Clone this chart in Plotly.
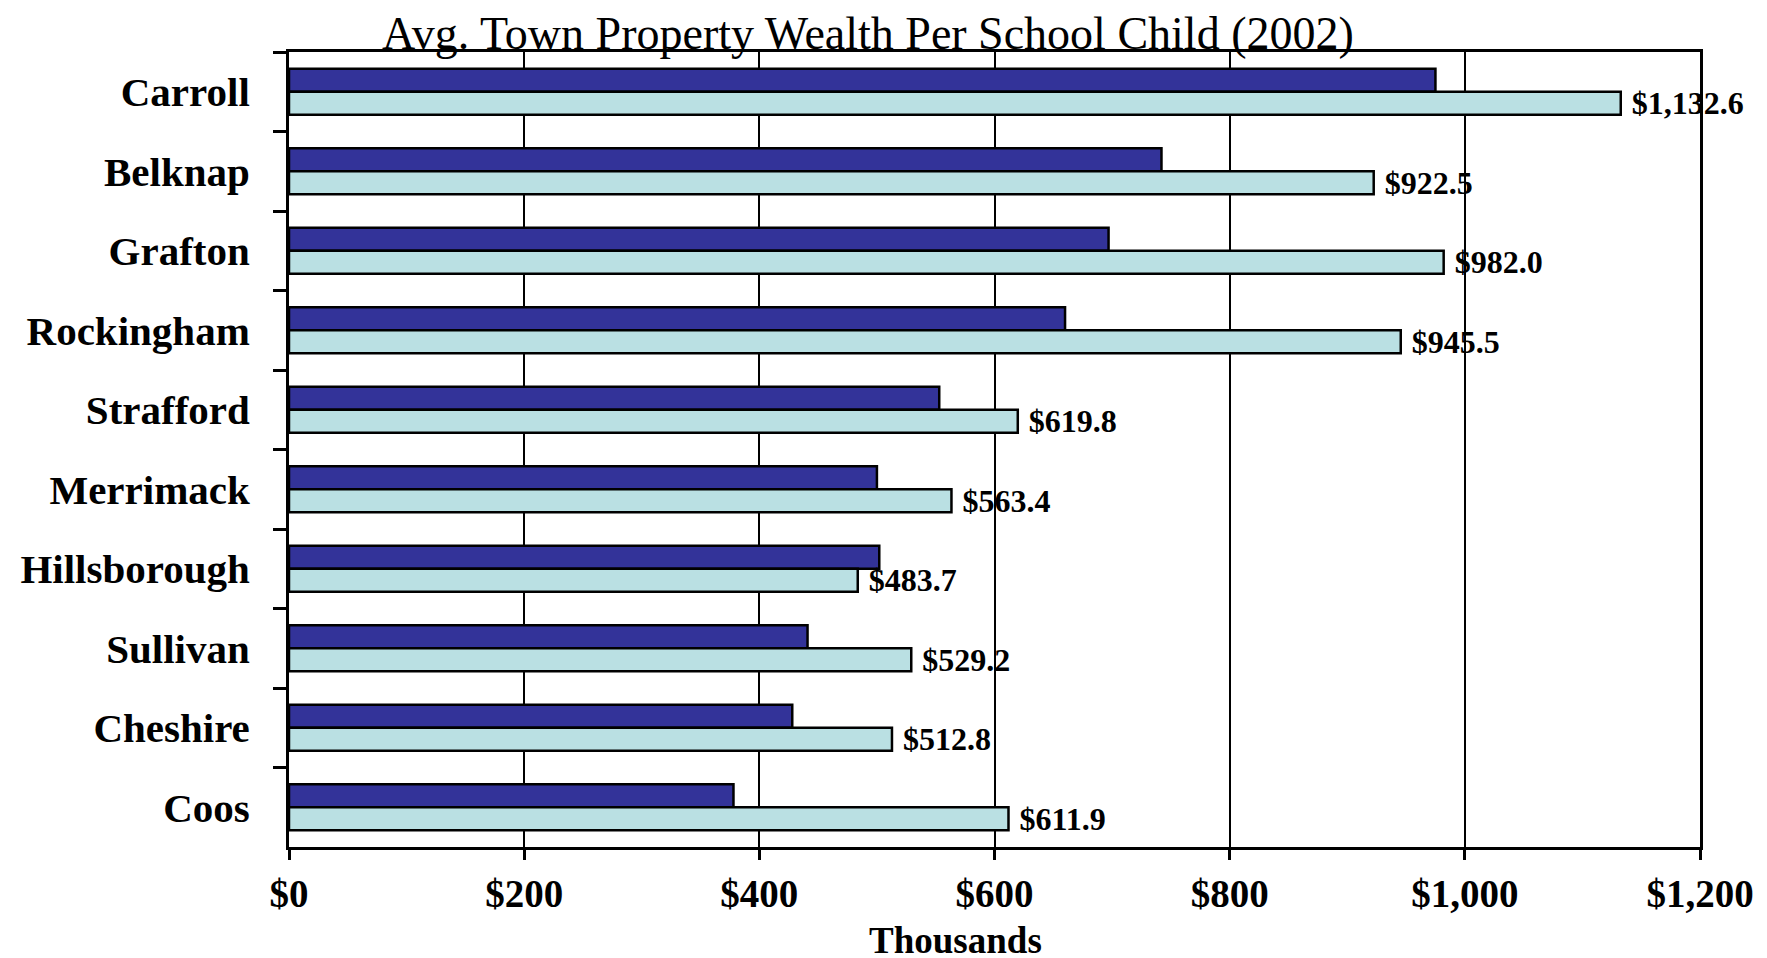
import plotly.graph_objects as go

counties = ["Carroll", "Belknap", "Grafton", "Rockingham", "Strafford",
            "Merrimack", "Hillsborough", "Sullivan", "Cheshire", "Coos"]
wealth_earlier = [975, 742, 697, 660, 553, 500, 502, 441, 428, 378]
wealth_2002 = [1132.6, 922.5, 982.0, 945.5, 619.8, 563.4, 483.7, 529.2, 512.8, 611.9]
x_ticks = [0, 200, 400, 600, 800, 1000, 1200]
x_tick_labels = ["$0", "$200", "$400", "$600", "$800", "$1,000", "$1,200"]

W, H = 1767, 958
L, R, T, B = 276, 75, 44, 119
PW, PH = W - L - R, H - T - B
serif = "Liberation Serif, Times New Roman, serif"

fig = go.Figure()
fig.add_trace(go.Bar(
    y=counties, x=wealth_earlier, orientation="h", name="Earlier",
    marker=dict(color="#333399", line=dict(color="black", width=2.5)),
    hoverinfo="x+y",
))
fig.add_trace(go.Bar(
    y=counties, x=wealth_2002, orientation="h", name="2002",
    marker=dict(color="#BAE0E3", line=dict(color="black", width=2.5)),
    texttemplate="\u00a0$%{x:,.1f}", textposition="outside", cliponaxis=False,
    constraintext="none",
    textfont=dict(family=serif, size=32, color="black", weight="bold"),
    hoverinfo="x+y",
))

fig.update_layout(
    width=W, height=H,
    margin=dict(l=L, r=R, t=T, b=B, pad=0),
    paper_bgcolor="white", plot_bgcolor="white",
    barmode="group", bargap=0.42, bargroupgap=0,
    showlegend=False,
    font=dict(family=serif, color="black"),
)
fig.update_xaxes(
    range=[0, 1200], tickvals=x_ticks, ticktext=x_tick_labels,
    showgrid=True, gridcolor="black", gridwidth=2,
    showline=True, linecolor="black", linewidth=3, mirror=True,
    ticks="outside", ticklen=10, tickwidth=3, tickcolor="black",
    tickfont=dict(family=serif, size=39, color="black", weight="bold"),
    ticklabelstandoff=0, zeroline=False,
)
fig.update_yaxes(
    autorange="reversed", tickson="boundaries",
    showline=True, linecolor="black", linewidth=3, mirror=True,
    ticks="outside", ticklen=13, tickwidth=3, tickcolor="black",
    tickfont=dict(family=serif, size=41, color="black", weight="bold"),
    ticklabelstandoff=28, showgrid=False,
)

fig.add_annotation(
    text="Avg. Town Property Wealth Per School Child (2002)",
    xref="paper", yref="paper", x=(857 - L) / PW, y=1,
    xanchor="center", yanchor="bottom", yshift=-9, showarrow=False,
    font=dict(family=serif, size=46, color="black"),
)
fig.add_annotation(
    text="Thousands",
    xref="paper", yref="paper", x=(945 - L) / PW, y=-(932 - (H - B)) / PH,
    xanchor="center", yanchor="middle", showarrow=False,
    font=dict(family=serif, size=37, color="black", weight="bold"),
)

fig.write_html("out.html")
